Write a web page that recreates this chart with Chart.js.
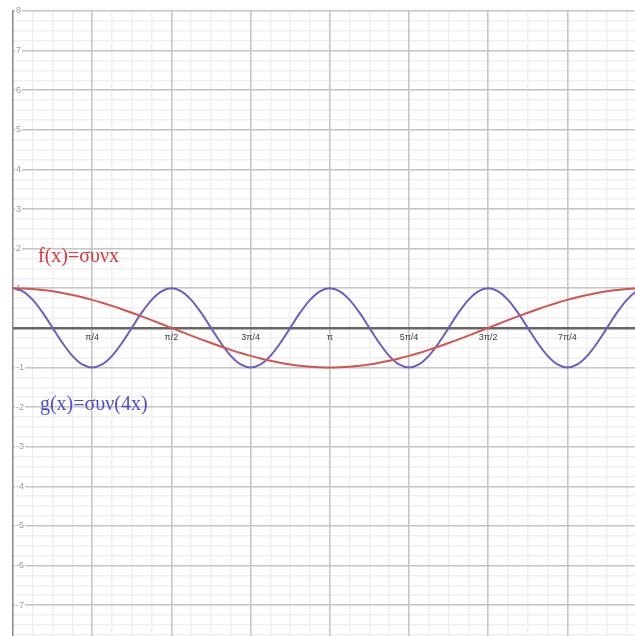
<!DOCTYPE html>
<html>
<head>
<meta charset="utf-8">
<script src="https://cdn.jsdelivr.net/npm/chart.js@4.4.1/dist/chart.umd.min.js"></script>
<style>
  html, body { margin: 0; padding: 0; background: #fff; overflow: hidden; }
  canvas { display: block; }
</style>
</head>
<body>
<canvas id="plot" width="635" height="636"></canvas>
<script>
// Sample positions in radians (steps of π/32)
const xRad = [
  0, 0.0982, 0.1963, 0.2945, 0.3927, 0.4909, 0.5890, 0.6872,
  0.7854, 0.8836, 0.9817, 1.0799, 1.1781, 1.2763, 1.3744, 1.4726,
  1.5708, 1.6690, 1.7671, 1.8653, 1.9635, 2.0617, 2.1598, 2.2580,
  2.3562, 2.4544, 2.5525, 2.6507, 2.7489, 2.8471, 2.9452, 3.0434,
  3.1416, 3.2398, 3.3379, 3.4361, 3.5343, 3.6325, 3.7306, 3.8288,
  3.9270, 4.0252, 4.1233, 4.2215, 4.3197, 4.4179, 4.5160, 4.6142,
  4.7124, 4.8106, 4.9087, 5.0069, 5.1051, 5.2033, 5.3014, 5.3996,
  5.4978, 5.5960, 5.6941, 5.7923, 5.8905, 5.9887, 6.0868, 6.1850,
  6.2832
];

// f(x) = συν x
const fValues = [
  1, 0.9952, 0.9808, 0.9569, 0.9239, 0.8819, 0.8315, 0.7730,
  0.7071, 0.6344, 0.5556, 0.4714, 0.3827, 0.2903, 0.1951, 0.0980,
  0, -0.0980, -0.1951, -0.2903, -0.3827, -0.4714, -0.5556, -0.6344,
  -0.7071, -0.7730, -0.8315, -0.8819, -0.9239, -0.9569, -0.9808, -0.9952,
  -1, -0.9952, -0.9808, -0.9569, -0.9239, -0.8819, -0.8315, -0.7730,
  -0.7071, -0.6344, -0.5556, -0.4714, -0.3827, -0.2903, -0.1951, -0.0980,
  0, 0.0980, 0.1951, 0.2903, 0.3827, 0.4714, 0.5556, 0.6344,
  0.7071, 0.7730, 0.8315, 0.8819, 0.9239, 0.9569, 0.9808, 0.9952,
  1
];

// g(x) = συν(4x)
const gValues = [
  1, 0.9239, 0.7071, 0.3827, 0, -0.3827, -0.7071, -0.9239,
  -1, -0.9239, -0.7071, -0.3827, 0, 0.3827, 0.7071, 0.9239,
  1, 0.9239, 0.7071, 0.3827, 0, -0.3827, -0.7071, -0.9239,
  -1, -0.9239, -0.7071, -0.3827, 0, 0.3827, 0.7071, 0.9239,
  1, 0.9239, 0.7071, 0.3827, 0, -0.3827, -0.7071, -0.9239,
  -1, -0.9239, -0.7071, -0.3827, 0, 0.3827, 0.7071, 0.9239,
  1, 0.9239, 0.7071, 0.3827, 0, -0.3827, -0.7071, -0.9239,
  -1, -0.9239, -0.7071, -0.3827, 0, 0.3827, 0.7071, 0.9239,
  1
];

// Labelled ticks
const xTickValues = [0.7854, 1.5708, 2.3562, 3.1416, 3.9270, 4.7124, 5.4978, 6.2832];
const xTickLabels = ['π/4', 'π/2', '3π/4', 'π', '5π/4', '3π/2', '7π/4', '2π'];
const yTickValues = [-8, -7, -6, -5, -4, -3, -2, -1, 1, 2, 3, 4, 5, 6, 7, 8];

const fLabel = 'f(x)=συνx';
const gLabel = 'g(x)=συν(4x)';

// Visible window
const X_MIN = 0, X_MAX = 6.168;
const Y_MIN = -7.78, Y_MAX = 8;

// Fine grid: π/16 horizontally, 0.25 vertically
const minorX = [];
for (let i = 0; i * Math.PI / 16 <= X_MAX; i++) minorX.push(i * Math.PI / 16);
const minorY = [];
for (let v = -7.75; v <= Y_MAX; v += 0.25) minorY.push(v);

const toPoints = (xs, ys) => xs.map((x, i) => ({ x, y: ys[i] }));
const setTicks = values => scale => {
  scale.ticks = values.filter(v => v >= scale.min - 1e-9 && v <= scale.max + 1e-9).map(value => ({ value }));
};
// Axes sit inside the plotting area and take no layout room
const noRoom = scale => {
  if (scale.isHorizontal()) scale.height = 0; else scale.width = 0;
  scale.paddingLeft = scale.paddingRight = scale.paddingTop = scale.paddingBottom = 0;
};

const formulaLabels = {
  id: 'formulaLabels',
  afterDatasetsDraw(chart) {
    const { ctx, scales: { x, y } } = chart;
    ctx.save();
    ctx.font = '20px "Liberation Serif", "DejaVu Serif", serif';
    ctx.textBaseline = 'alphabetic';
    ctx.textAlign = 'left';
    ctx.fillStyle = '#e2343c';
    ctx.fillText(fLabel, x.getPixelForValue(0.2476), y.getPixelForValue(1.674));
    ctx.fillStyle = '#4d4dd6';
    ctx.fillText(gLabel, x.getPixelForValue(0.267), y.getPixelForValue(-2.063));
    ctx.restore();
  }
};

new Chart(document.getElementById('plot'), {
  type: 'line',
  data: {
    datasets: [
      {
        label: fLabel,
        data: toPoints(xRad, fValues),
        borderColor: '#d4554f',
        borderWidth: 2,
        pointRadius: 0,
        cubicInterpolationMode: 'monotone',
        xAxisID: 'x',
        yAxisID: 'y'
      },
      {
        label: gLabel,
        data: toPoints(xRad, gValues),
        borderColor: '#6e5cc0',
        borderWidth: 2,
        pointRadius: 0,
        cubicInterpolationMode: 'monotone',
        xAxisID: 'x',
        yAxisID: 'y'
      }
    ]
  },
  options: {
    responsive: false,
    animation: false,
    events: [],
    layout: { padding: { left: 13, top: 11, right: 0, bottom: 0 } },
    plugins: { legend: { display: false }, tooltip: { enabled: false } },
    scales: {
      x: {
        type: 'linear', min: X_MIN, max: X_MAX, position: 'bottom',
        afterBuildTicks: setTicks(minorX),
        afterFit: noRoom,
        ticks: { display: false },
        border: { display: false },
        grid: { color: '#f0f0f0', lineWidth: 1.5, drawTicks: false, z: -2 }
      },
      y: {
        type: 'linear', min: Y_MIN, max: Y_MAX, position: 'left',
        afterBuildTicks: setTicks(minorY),
        afterFit: noRoom,
        ticks: { display: false },
        border: { display: false },
        grid: { color: '#f0f0f0', lineWidth: 1.5, drawTicks: false, z: -2 }
      },
      xMajor: {
        type: 'linear', axis: 'x', min: X_MIN, max: X_MAX, position: { y: 0 },
        afterBuildTicks: setTicks(xTickValues),
        afterFit: noRoom,
        ticks: {
          autoSkip: false, maxRotation: 0, padding: 4,
          color: '#3c3c3c', font: { size: 9, family: '"Liberation Sans", Arial, sans-serif' },
          callback: value => xTickLabels[xTickValues.indexOf(value)]
        },
        border: { display: true, color: '#666', width: 2.5 },
        grid: { color: '#c6c6c6', lineWidth: 1.5, drawTicks: false }
      },
      yMajor: {
        type: 'linear', axis: 'y', min: Y_MIN, max: Y_MAX, position: 'left',
        afterBuildTicks: setTicks(yTickValues),
        afterFit: noRoom,
        ticks: {
          mirror: true, padding: 3,
          color: '#9a9a9a', font: { size: 9, family: '"Liberation Sans", Arial, sans-serif' },
          showLabelBackdrop: true, backdropColor: '#ffffff', backdropPadding: 1,
          callback: value => String(value)
        },
        border: { display: true, color: '#8a8a8a', width: 1.5 },
        grid: { color: '#c6c6c6', lineWidth: 1.5, drawTicks: false }
      }
    }
  },
  plugins: [formulaLabels]
});
</script>
</body>
</html>
